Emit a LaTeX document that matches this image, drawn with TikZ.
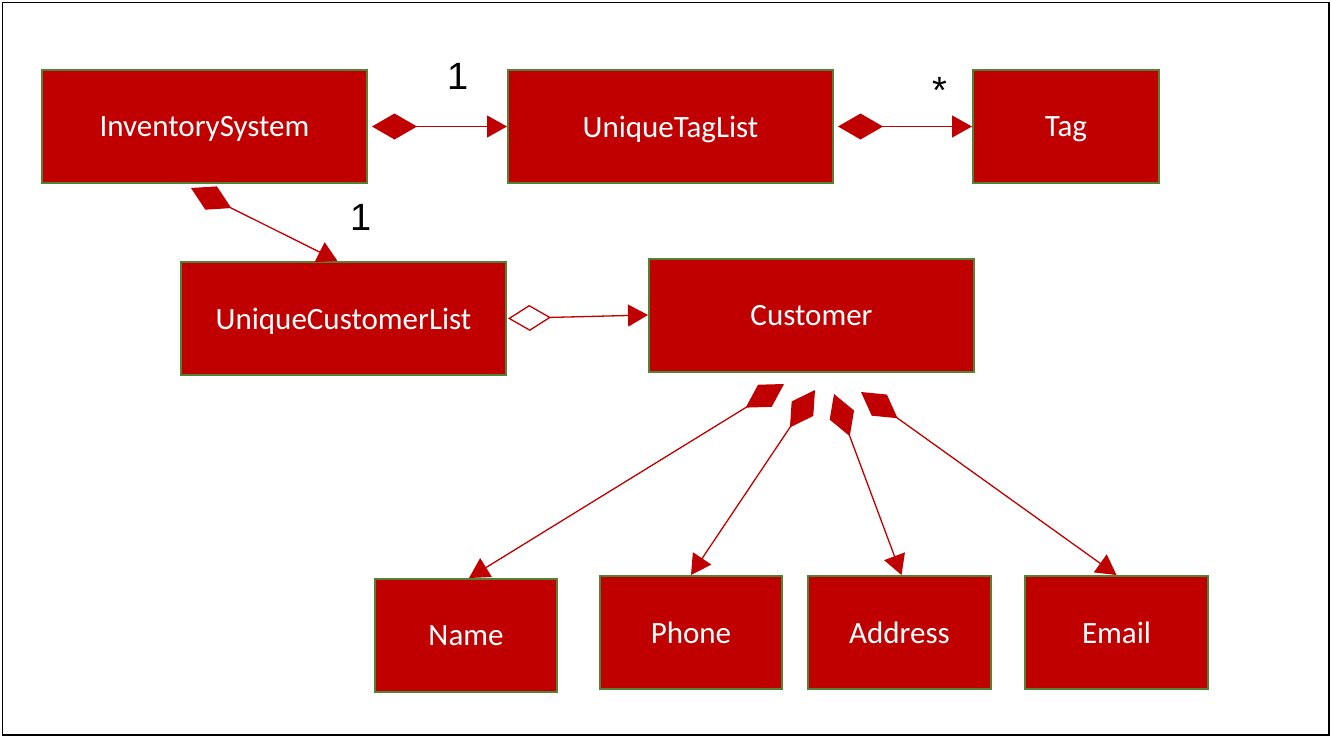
\documentclass[tikz,border=0pt]{standalone}
\usepackage{fontspec}
\setmainfont{Carlito}
\newfontfamily\multfont{Liberation Sans}
\usetikzlibrary{arrows.meta}
\definecolor{boxred}{RGB}{192,0,0}
\definecolor{boxgreen}{RGB}{84,130,53}

\begin{document}
\begin{tikzpicture}[
  cls/.style={draw=boxgreen,line width=2pt,fill=boxred,text=white,inner sep=0pt,
    minimum width=325pt,minimum height=113pt,text depth=0pt,
    font=\fontsize{31}{36}\selectfont},
  small/.style={cls,minimum width=182pt},
  comp/.style={boxred,line width=1.3pt,
    {Diamond[length=45pt,width=26pt]}-{Triangle[length=20pt,width=22pt]}},
  aggr/.style={boxred,line width=1.3pt,
    {Diamond[length=43pt,width=26pt,fill=white]}-{Triangle[length=20pt,width=22pt]}},
  mult/.style={font=\multfont\fontsize{38}{40}\selectfont},
  x=1pt,y=-1pt
]
  \useasboundingbox (0,0) rectangle (1331,737);
  \draw[line width=1.5pt] (2.5,2.5) rectangle (1329,735);

  % classes
  \node[cls] (invsys) at (204.5,126.5) {InventorySystem};
  \node[cls] (taglist) at (670.5,126.5) {UniqueTagList};
  \node[cls,minimum width=186pt] (tag) at (1066,126.5) {Tag};
  \node[cls] (custlist) at (343.5,318.5) {UniqueCustomerList};
  \node[cls] (customer) at (811.5,315) {Customer};
  \node[small] (name) at (466,635.5) {Name};
  \node[small] (phone) at (691,632.5) {Phone};
  \node[small,minimum width=183pt] (address) at (899.5,632.5) {Address};
  \node[small,minimum width=183pt] (email) at (1116.5,632.5) {Email};

  % diamond ends
  \coordinate (invsys-d) at (191,188);
  \coordinate (cust-name) at (784,384);
  \coordinate (cust-phone) at (815,390);
  \coordinate (cust-addr) at (834,394);
  \coordinate (cust-email) at (861,392);

  \draw[comp,shorten <=4pt] (invsys.east) -- (taglist.west);
  \draw[comp,shorten <=4pt] (taglist.east) -- (tag.west);
  \draw[comp] (invsys-d) -- ([xshift=-6pt]custlist.north);
  \draw[aggr,shorten <=1pt] (custlist.east) -- (customer.west);
  \draw[comp] (cust-name) -- ([xshift=3pt]name.north);
  \draw[comp] (cust-phone) -- (phone.north);
  \draw[comp] (cust-addr) -- ([xshift=2pt]address.north);
  \draw[comp] (cust-email) -- (email.north);

  % multiplicities
  \node[mult] (m-tag) at (458,76) {1};
  \node[mult] (m-tags) at (940,90) {*};
  \node[mult] (m-cust) at (361,217) {1};
\end{tikzpicture}
\end{document}
